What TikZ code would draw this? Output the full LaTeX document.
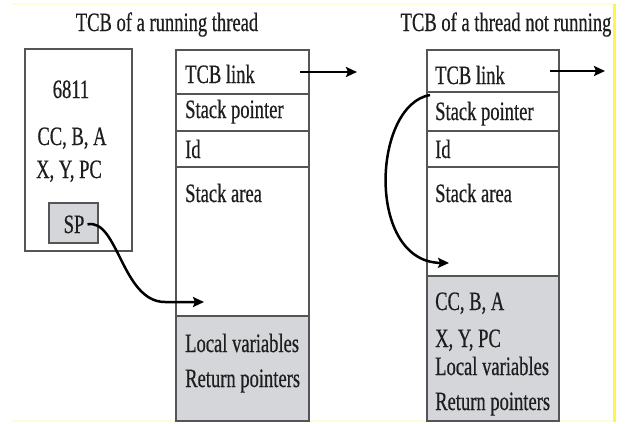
\documentclass[tikz,border=0pt]{standalone}
\usepackage{fontspec}
\setmainfont[FakeStretch=0.7, FakeBold=0.5]{Liberation Serif}
\usetikzlibrary{arrows.meta}
\definecolor{boxline}{RGB}{85,85,85}
\definecolor{shade}{RGB}{212,214,217}
\definecolor{ink}{RGB}{30,30,30}
\definecolor{frameyellow}{RGB}{255,244,80}
\definecolor{paleyellow}{RGB}{255,252,215}

\begin{document}
\begin{tikzpicture}[x=1pt,y=-1pt,
  cell/.style={draw=boxline, line width=1.7pt, inner sep=0pt, outer sep=0pt,
               anchor=north west},
  shaded/.style={cell, fill=shade},
  lbl/.style={font=\fontsize{26.5}{28}\selectfont, text=ink, inner sep=0pt,
              anchor=base west},
  clbl/.style={lbl, anchor=base},
  link/.style={line width=2.5pt, -{Stealth[length=11pt,width=10pt,inset=2pt]}}]

\useasboundingbox (0,0) rectangle (626,423);
\fill[white] (0,0) rectangle (626,423);

% faint frame of the page
\draw[paleyellow, line width=2pt] (12,4) -- (614,4);
\draw[paleyellow, line width=2pt] (12,421) -- (614,421);
\draw[frameyellow, line width=3pt] (614,4) -- (614,422);

% titles
\node[clbl] (t1) at (167,31) {TCB of a running thread};
\node[clbl] (t2) at (506,31) {TCB of a thread not running};

% processor registers
\node[cell, minimum width=107pt, minimum height=202pt] (cpu) at (25,49) {};
\node[clbl] (c1) at (71,98) {6811};
\node[clbl] (c2) at (72,145) {CC, B, A};
\node[clbl] (c3) at (69,178) {X, Y, PC};
\node[shaded, minimum width=49pt, minimum height=40pt] (spbox) at (49,203) {};
\node[clbl] (sp) at (74,233) {SP};

% TCB of the running thread
\node[cell, minimum width=133pt, minimum height=44pt] (m1) at (176,50) {};
\node[cell, minimum width=133pt, minimum height=37pt] (m2) at (176,94) {};
\node[cell, minimum width=133pt, minimum height=36pt] (m3) at (176,131) {};
\node[cell, minimum width=133pt, minimum height=149pt] (m4) at (176,167) {};
\node[shaded, minimum width=133pt, minimum height=105pt] (m5) at (176,316) {};
\node[lbl] (m1t) at (185,83) {TCB link};
\node[lbl] (m2t) at (185,118) {Stack pointer};
\node[lbl] (m3t) at (185,158) {Id};
\node[lbl] (m4t) at (185,202) {Stack area};
\node[lbl] (m5a) at (185,352) {Local variables};
\node[lbl] (m5b) at (185,387) {Return pointers};

% TCB of a thread that is not running
\node[cell, minimum width=132pt, minimum height=42pt] (r1) at (427,50) {};
\node[cell, minimum width=132pt, minimum height=39pt] (r2) at (427,92) {};
\node[cell, minimum width=132pt, minimum height=36pt] (r3) at (427,131) {};
\node[cell, minimum width=132pt, minimum height=109pt] (r4) at (427,167) {};
\node[shaded, minimum width=132pt, minimum height=145pt] (r5) at (427,276) {};
\node[lbl] (r1t) at (435,84) {TCB link};
\node[lbl] (r2t) at (435,120) {Stack pointer};
\node[lbl] (r3t) at (435,158) {Id};
\node[lbl] (r4t) at (435,202) {Stack area};
\node[lbl] (r5a) at (435,310) {CC, B, A};
\node[lbl] (r5b) at (435,347) {X, Y, PC};
\node[lbl] (r5c) at (435,375) {Local variables};
\node[lbl] (r5d) at (435,410) {Return pointers};

% free ends of the pointers
\coordinate (nextL) at (357,72);
\coordinate (nextR) at (605,71);
\coordinate (topL) at (204,302);
\coordinate (topR) at (449,263);

% pointers
\draw[link] ([xshift=-9pt]m1.east) -- (nextL);
\draw[link] ([xshift=-9pt]r1.east) -- (nextR);
\draw[link] ([xshift=3pt]sp.east) .. controls (118,218) and (122,302) .. (165,302) -- (topL);
\draw[link] ([shift={(3,3)}]r2.north west) .. controls (372,105) and (366,262) .. (topR);
\end{tikzpicture}
\end{document}
